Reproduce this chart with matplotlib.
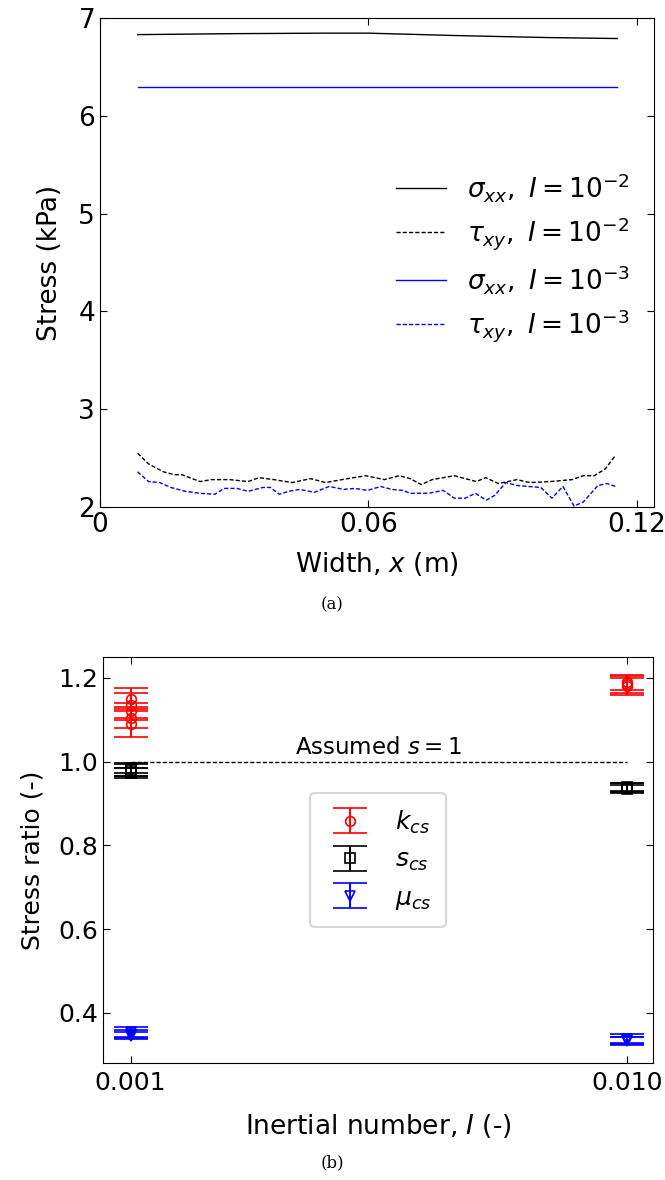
import numpy as np
import matplotlib
matplotlib.use("Agg")
import matplotlib.pyplot as plt
from matplotlib.ticker import FixedLocator, FixedFormatter, NullLocator

# ---------------- data: panel (a) ----------------
sig_x = [0.0084, 0.03, 0.05, 0.06, 0.08, 0.10, 0.1156]
sig_xx_I2 = [6.83, 6.84, 6.845, 6.845, 6.82, 6.80, 6.79]
sig_xx_I3 = [6.29, 6.29, 6.29, 6.29, 6.29, 6.29, 6.29]

tau_I2_xz = [130, 160, 200, 230, 250, 300, 330, 380, 430, 460, 500, 550, 600, 640, 700,
             750, 800, 840, 870, 900, 930, 990, 1050, 1075, 1110, 1160, 1195, 1250, 1310,
             1340, 1370, 1400, 1428]
tau_I2 = [2.55, 2.44, 2.36, 2.33, 2.33, 2.26, 2.28, 2.28, 2.26, 2.30, 2.28, 2.25, 2.29,
          2.25, 2.29, 2.32, 2.28, 2.32, 2.29, 2.23, 2.28, 2.32, 2.26, 2.30, 2.24, 2.28,
          2.25, 2.26, 2.28, 2.32, 2.32, 2.39, 2.53]
tau_I3_xz = [130, 160, 190, 220, 260, 300, 340, 365, 400, 430, 470, 490, 515, 540, 570,
             610, 650, 690, 720, 755, 790, 820, 850, 870, 920, 960, 990, 1020, 1047, 1077,
             1100, 1130, 1160, 1190, 1225, 1255, 1285, 1315, 1340, 1380, 1405, 1428]
tau_I3 = [2.36, 2.26, 2.25, 2.20, 2.16, 2.14, 2.13, 2.19, 2.19, 2.16, 2.20, 2.20, 2.13,
          2.16, 2.18, 2.15, 2.21, 2.18, 2.19, 2.17, 2.21, 2.18, 2.17, 2.14, 2.14, 2.17,
          2.09, 2.09, 2.14, 2.07, 2.12, 2.25, 2.22, 2.21, 2.20, 2.09, 2.21, 2.01, 2.05,
          2.22, 2.24, 2.21]
tau_I2_x = [(v - 28) / 1458 * 0.12 for v in tau_I2_xz]
tau_I3_x = [(v - 28) / 1458 * 0.12 for v in tau_I3_xz]

# ---------------- data: panel (b) ----------------
I_small = 0.001
I_large = 0.01
k_small = [1.15, 1.135, 1.12, 1.105, 1.09]
k_small_err = [0.025, 0.03, 0.02, 0.025, 0.03]
k_large = [1.19, 1.185, 1.18]
k_large_err = [0.018, 0.02, 0.02]
s_small = [0.985, 0.98, 0.975, 0.972]
s_small_err = [0.012, 0.015, 0.01, 0.012]
s_large = [0.94, 0.937, 0.935]
s_large_err = [0.01, 0.012, 0.008]
mu_small = [0.355, 0.35, 0.345]
mu_small_err = [0.012, 0.01, 0.008]
mu_large = [0.337, 0.335, 0.333]
mu_large_err = [0.012, 0.008, 0.01]

FS = 19
FS2 = 18
plt.rcParams['font.family'] = ['DejaVu Sans']
plt.rcParams['mathtext.fontset'] = 'dejavusans'

fig = plt.figure(figsize=(6.65, 11.8), dpi=100)

# ---------- panel (a) ----------
ax1 = fig.add_axes([100 / 665, 1 - 507 / 1180, 554 / 665, 489 / 1180])
ax1.plot(sig_x, sig_xx_I2, color='black', lw=1.0, label=r'$\sigma_{xx},\ I=10^{-2}$')
ax1.plot(tau_I2_x, tau_I2, color='black', lw=1.0, ls='--', dashes=(3, 1.5),
         label=r'$\tau_{xy},\ I=10^{-2}$')
ax1.plot(sig_x, sig_xx_I3, color='blue', lw=1.0, label=r'$\sigma_{xx},\ I=10^{-3}$')
ax1.plot(tau_I3_x, tau_I3, color='blue', lw=1.0, ls='--', dashes=(3, 1.5),
         label=r'$\tau_{xy},\ I=10^{-3}$')
ax1.set_xlim(0, 0.1238)
ax1.set_ylim(2, 7)
ax1.set_xticks([0, 0.06, 0.12])
ax1.set_xticklabels(['0', '0.06', '0.12'])
ax1.set_yticks([2, 3, 4, 5, 6, 7])
ax1.tick_params(direction='in', top=True, right=True, labelsize=FS, length=5)
ax1.set_xlabel(r'Width, $x$ (m)', fontsize=FS, labelpad=9)
ax1.set_ylabel('Stress (kPa)', fontsize=FS, labelpad=11)
ax1.legend(loc='center right', frameon=False, fontsize=FS, handlelength=1.9,
           handletextpad=0.8, bbox_to_anchor=(1.0, 0.51), labelspacing=0.42)

# ---------- panel (b) ----------
ax2 = fig.add_axes([103 / 665, 1 - 1063 / 1180, 550 / 665, 406 / 1180])
ax2.set_xscale('log')
ekw = dict(capsize=12, elinewidth=1.4, capthick=1.4, ls='none', markersize=7,
           markerfacecolor='none', markeredgewidth=1.2)
for i, (v, e) in enumerate(zip(k_small, k_small_err)):
    ax2.errorbar([I_small], [v], yerr=[e], color='red', marker='o',
                 label=r'$k_{cs}$' if i == 0 else None, **ekw)
for v, e in zip(k_large, k_large_err):
    ax2.errorbar([I_large], [v], yerr=[e], color='red', marker='o', **ekw)
for i, (v, e) in enumerate(zip(s_small, s_small_err)):
    ax2.errorbar([I_small], [v], yerr=[e], color='black', marker='s',
                 label=r'$s_{cs}$' if i == 0 else None, **ekw)
for v, e in zip(s_large, s_large_err):
    ax2.errorbar([I_large], [v], yerr=[e], color='black', marker='s', **ekw)
for i, (v, e) in enumerate(zip(mu_small, mu_small_err)):
    ax2.errorbar([I_small], [v], yerr=[e], color='blue', marker='v',
                 label=r'$\mu_{cs}$' if i == 0 else None, **ekw)
for v, e in zip(mu_large, mu_large_err):
    ax2.errorbar([I_large], [v], yerr=[e], color='blue', marker='v', **ekw)

ax2.plot([I_small, I_large], [1.0, 1.0], color='black', lw=1.0, ls='--', dashes=(3, 1.5))
ax2.text(np.sqrt(I_small * I_large), 1.006, r'Assumed $s=1$', fontsize=16.5,
         ha='center', va='bottom')
ax2.set_xlim(0.00088, 0.0113)
ax2.set_ylim(0.28, 1.25)
ax2.xaxis.set_major_locator(FixedLocator([0.001, 0.01]))
ax2.xaxis.set_major_formatter(FixedFormatter(['0.001', '0.010']))
ax2.xaxis.set_minor_locator(NullLocator())
ax2.set_yticks([0.4, 0.6, 0.8, 1.0, 1.2])
ax2.set_yticklabels(['0.4', '0.6', '0.8', '1.0', '1.2'])
ax2.tick_params(direction='in', top=True, right=True, labelsize=FS2, length=5)
ax2.tick_params(axis='x', pad=6)
ax2.set_xlabel(r'Inertial number, $I$ (-)', fontsize=FS, labelpad=12)
ax2.set_ylabel('Stress ratio (-)', fontsize=FS2, labelpad=10)
leg = ax2.legend(loc='center', fontsize=FS2, frameon=True, fancybox=True,
                 edgecolor='#cccccc', handlelength=2.0, borderpad=0.6, labelspacing=0.5)
leg.get_frame().set_linewidth(1.5)

fig.text(0.5, 1 - 605 / 1180, '(a)', fontsize=12, family='DejaVu Serif',
         ha='center', va='center')
fig.text(0.5, 1 - 1163 / 1180, '(b)', fontsize=12, family='DejaVu Serif',
         ha='center', va='center')

fig.savefig('out.png', dpi=100)
